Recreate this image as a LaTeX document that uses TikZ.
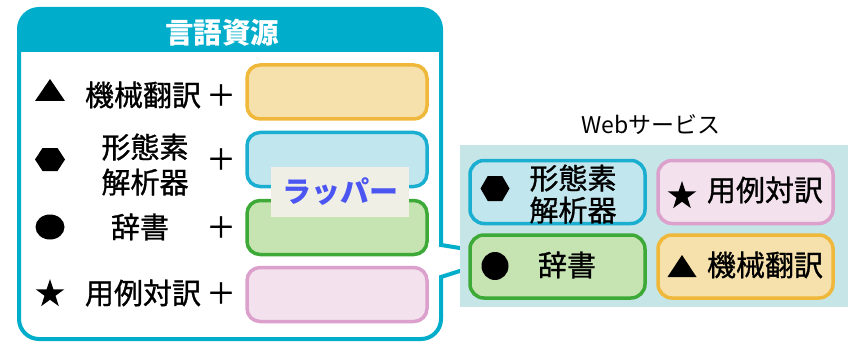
\documentclass[tikz,border=0pt]{standalone}
\usepackage{fontspec}
\newfontfamily\jp{Noto Sans CJK JP}
\newfontfamily\jpm[FakeBold=1]{Noto Sans CJK JP}
\usetikzlibrary{shapes.geometric}
\definecolor{frameC}{HTML}{00AECB}
\definecolor{webbg}{HTML}{C5E5E6}
\definecolor{orB}{HTML}{F0B83A}\definecolor{orF}{HTML}{F6E0AC}
\definecolor{blB}{HTML}{1AAFD0}\definecolor{blF}{HTML}{C1E6EE}
\definecolor{grB}{HTML}{3DAA38}\definecolor{grF}{HTML}{C6E3B2}
\definecolor{piB}{HTML}{DCA0CC}\definecolor{piF}{HTML}{F3E2EE}
\definecolor{wrapF}{HTML}{EFEFE6}\definecolor{wrapT}{HTML}{4A55F2}
\tikzset{
  boxL/.style={draw, line width=3.5pt, rounded corners=13pt, minimum width=180pt, minimum height=54pt, inner sep=0pt},
  boxR/.style={draw, line width=3.5pt, rounded corners=14pt, minimum width=175pt, minimum height=63pt, inner sep=0pt},
  lab/.style={inner sep=0pt, align=center, font=\jpm\fontsize{29}{35}\selectfont},
  labR/.style={inner sep=0pt, align=center, font=\jpm\fontsize{29}{32}\selectfont},
  starS/.style={star, star points=5, star point ratio=2.6, fill=black, inner sep=0pt, minimum size=30pt},
}
\begin{document}
\begin{tikzpicture}[x=1pt,y=-1pt]
\useasboundingbox (0,0) rectangle (851,342);
\fill[white] (0,0) rectangle (851,342);
% frame with header and callout pointer
\fill[frameC] (19,52) -- (19,29) arc(180:270:20) -- (421,9) arc(270:360:20) -- (441,52) -- cycle;
\draw[frameC, line width=4pt, line join=miter] (19,319) -- (19,29) arc(180:270:20) -- (421,9) arc(270:360:20) -- (441,245) -- (466,249) -- (466,269) -- (441,277) -- (441,319) arc(0:90:20) -- (39,339) arc(90:180:20) -- cycle;
\node[inner sep=0pt, text=white, font=\jp\bfseries\fontsize{28.5}{30}\selectfont] (title) at (222,33) {言語資源};
% left boxes
\node[boxL, draw=orB, fill=orF] (lb1) at (337,92) {};
\node[boxL, draw=blB, fill=blF] (lb2) at (337,159.5) {};
\node[boxL, draw=grB, fill=grF] (lb3) at (337,227.5) {};
\node[boxL, draw=piB, fill=piF] (lb4) at (337,294.5) {};
% left symbols
\coordinate (ls1) at (50,90);
\fill (ls1) ++(-15,11) -- ++(30,0) -- ++(-15,-22) -- cycle;
\coordinate (ls2) at (50,159.5);
\fill (ls2) ++(-15,0) -- ++(7.5,-11.5) -- ++(15,0) -- ++(7.5,11.5) -- ++(-7.5,11.5) -- ++(-15,0) -- cycle;
\coordinate (ls3) at (50,227);
\fill (ls3) ellipse [x radius=14.5, y radius=12.5];
\node[starS] (ls4) at (50,294) {};
% left labels
\node[lab] (lt1) at (143,95) {機械翻訳};
\node[lab] (lt2) at (145,164.5) {形態素\\解析器};
\node[lab] (lt3) at (140,227) {辞書};
\node[lab] (lt4) at (143,293) {用例対訳};
\node[lab] (p1) at (221,95) {＋};
\node[lab] (p2) at (221,159) {＋};
\node[lab] (p3) at (221,227) {＋};
\node[lab] (p4) at (221,293) {＋};
% wrapper label
\node[fill=wrapF, minimum width=138pt, minimum height=50pt, inner sep=0pt, text=wrapT, font=\jp\bfseries\fontsize{29}{30}\selectfont] (wrap) at (340,192) {ラッパー};
% web services
\node[inner sep=0pt, font=\jp\fontsize{23}{25}\selectfont] (webt) at (651,125) {Webサービス};
\node[fill=webbg, minimum width=388pt, minimum height=162pt, inner sep=0pt] (web) at (654,226) {};
\node[boxR, draw=blB, fill=blF] (rb1) at (557.5,192) {};
\node[boxR, draw=piB, fill=piF] (rb2) at (745.5,192) {};
\node[boxR, draw=grB, fill=grF] (rb3) at (557.5,266.5) {};
\node[boxR, draw=orB, fill=orF] (rb4) at (745.5,266.5) {};
\coordinate (rs1) at (495,188.5);
\fill (rs1) ++(-14.5,0) -- ++(7.25,-12.5) -- ++(14.5,0) -- ++(7.25,12.5) -- ++(-7.25,12.5) -- ++(-14.5,0) -- cycle;
\node[starS] (rs2) at (682,196) {};
\coordinate (rs3) at (495,266);
\fill (rs3) ellipse [x radius=13.5, y radius=14];
\coordinate (rs4) at (682,266);
\fill (rs4) ++(-14.5,11) -- ++(29,0) -- ++(-14.5,-22) -- cycle;
\node[labR] (rt1) at (573,194) {形態素\\解析器};
\node[labR] (rt2) at (765,190) {用例対訳};
\node[labR] (rt3) at (567,265) {辞書};
\node[labR] (rt4) at (765,265) {機械翻訳};
\end{tikzpicture}
\end{document}
